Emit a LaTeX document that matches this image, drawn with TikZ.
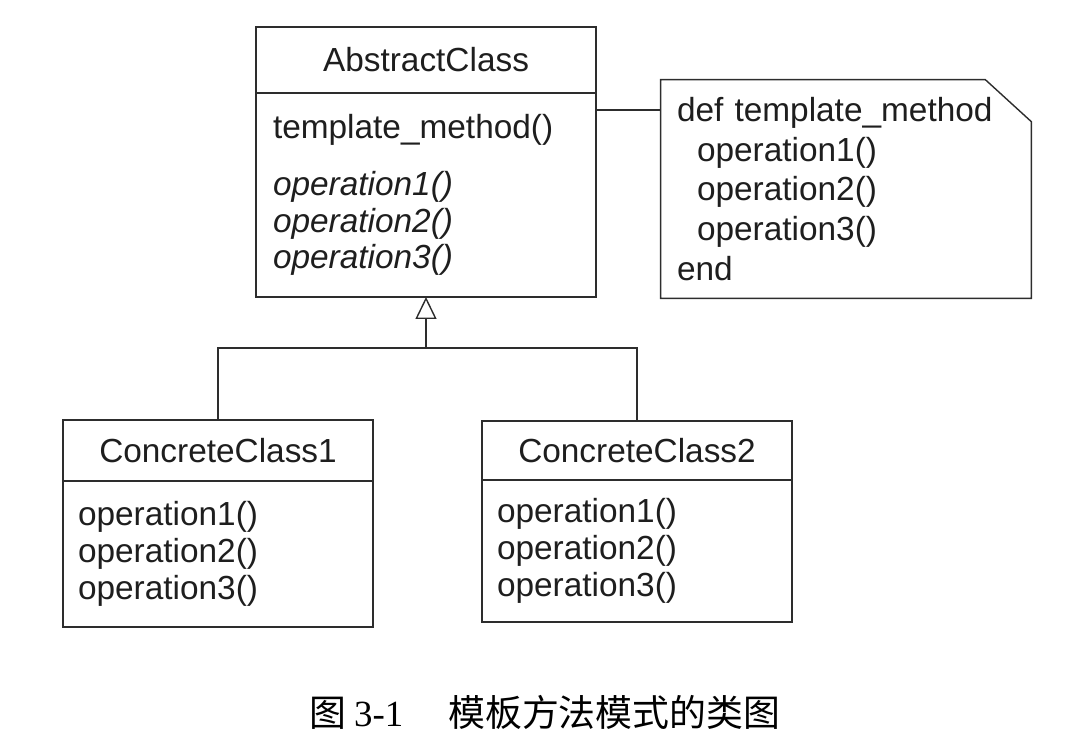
\documentclass[tikz,border=0pt]{standalone}
\usepackage{fontspec}
\setmainfont{Liberation Sans}
\newfontfamily\cjk{Noto Sans CJK SC}
\newfontfamily\capserif{Liberation Serif}
\usetikzlibrary{arrows.meta, positioning}
\definecolor{umlline}{RGB}{45,45,45}
\definecolor{umltext}{RGB}{30,30,30}
\newcommand{\umlfont}{\fontsize{19pt}{21pt}\selectfont}
\newcommand{\notefont}{\fontsize{19pt}{22.7pt}\selectfont}

\begin{document}
\begin{tikzpicture}[x=0.02cm, y=-0.02cm,
      node distance=0pt,
      head/.style={draw=umlline, line width=0.8pt, text=umltext, font=\umlfont,
                   inner sep=0pt, outer sep=0pt},
      ops/.style={draw=umlline, line width=0.8pt, text=umltext, font=\umlfont,
                  align=left, inner ysep=0pt, outer sep=0pt},
      memo/.style={text=umltext, font=\notefont, align=left, text width=6.76cm,
                   inner xsep=0.32cm, inner ysep=0pt, minimum height=4.36cm},
      link/.style={umlline, line width=0.8pt},
      inherit/.style={link, -{Triangle[open, length=0.44cm, width=0.42cm]}}]
    \useasboundingbox (0,0) rectangle (1092,740);
    % abstract class
    \node[head, minimum width=6.8cm, minimum height=1.32cm] (abs) at (426,60) {AbstractClass};
    \node[ops, below=of abs, text width=6.12cm, inner xsep=0.34cm, minimum height=4.08cm] (absops)
      {template\_method()\\[0.4cm]\textit{operation1()}\\\textit{operation2()}\\\textit{operation3()}};
    % note
    \node[memo] (note) at (846,189)
      {def template\_method\\\hspace*{0.4cm}operation1()\\\hspace*{0.4cm}operation2()\\\hspace*{0.4cm}operation3()\\end};
    \draw[link] (note.north west) -- ([xshift=-0.92cm]note.north east)
      -- ([yshift=-0.84cm]note.north east) -- (note.south east) -- (note.south west) -- cycle;
    % concrete classes
    \node[head, minimum width=6.2cm, minimum height=1.22cm] (cc1) at (218,450.5) {ConcreteClass1};
    \node[ops, below=of cc1, text width=5.6cm, inner xsep=0.3cm, minimum height=2.92cm] (cc1ops)
      {operation1()\\operation2()\\operation3()};
    \node[head, minimum width=6.2cm, minimum height=1.18cm] (cc2) at (637,450.5) {ConcreteClass2};
    \node[ops, below=of cc2, text width=5.6cm, inner xsep=0.3cm, minimum height=2.84cm] (cc2ops)
      {operation1()\\operation2()\\operation3()};
    % connectors
    \coordinate (tie) at (628,110);
    \coordinate (joint) at (426,348);
    \draw[link] (abs.east |- tie) -- (note.west |- tie);
    \draw[link] (cc1.north) |- (joint) -| (cc2.north);
    \draw[inherit] (joint) -- (absops.south);
    % caption
    \node[text=black, font=\fontsize{21pt}{24pt}\selectfont] (caption) at (545,712)
      {\cjk 图\hspace{0.15cm}{\capserif 3-1}\hspace{0.9cm}模板方法模式的类图};
\end{tikzpicture}
\end{document}
